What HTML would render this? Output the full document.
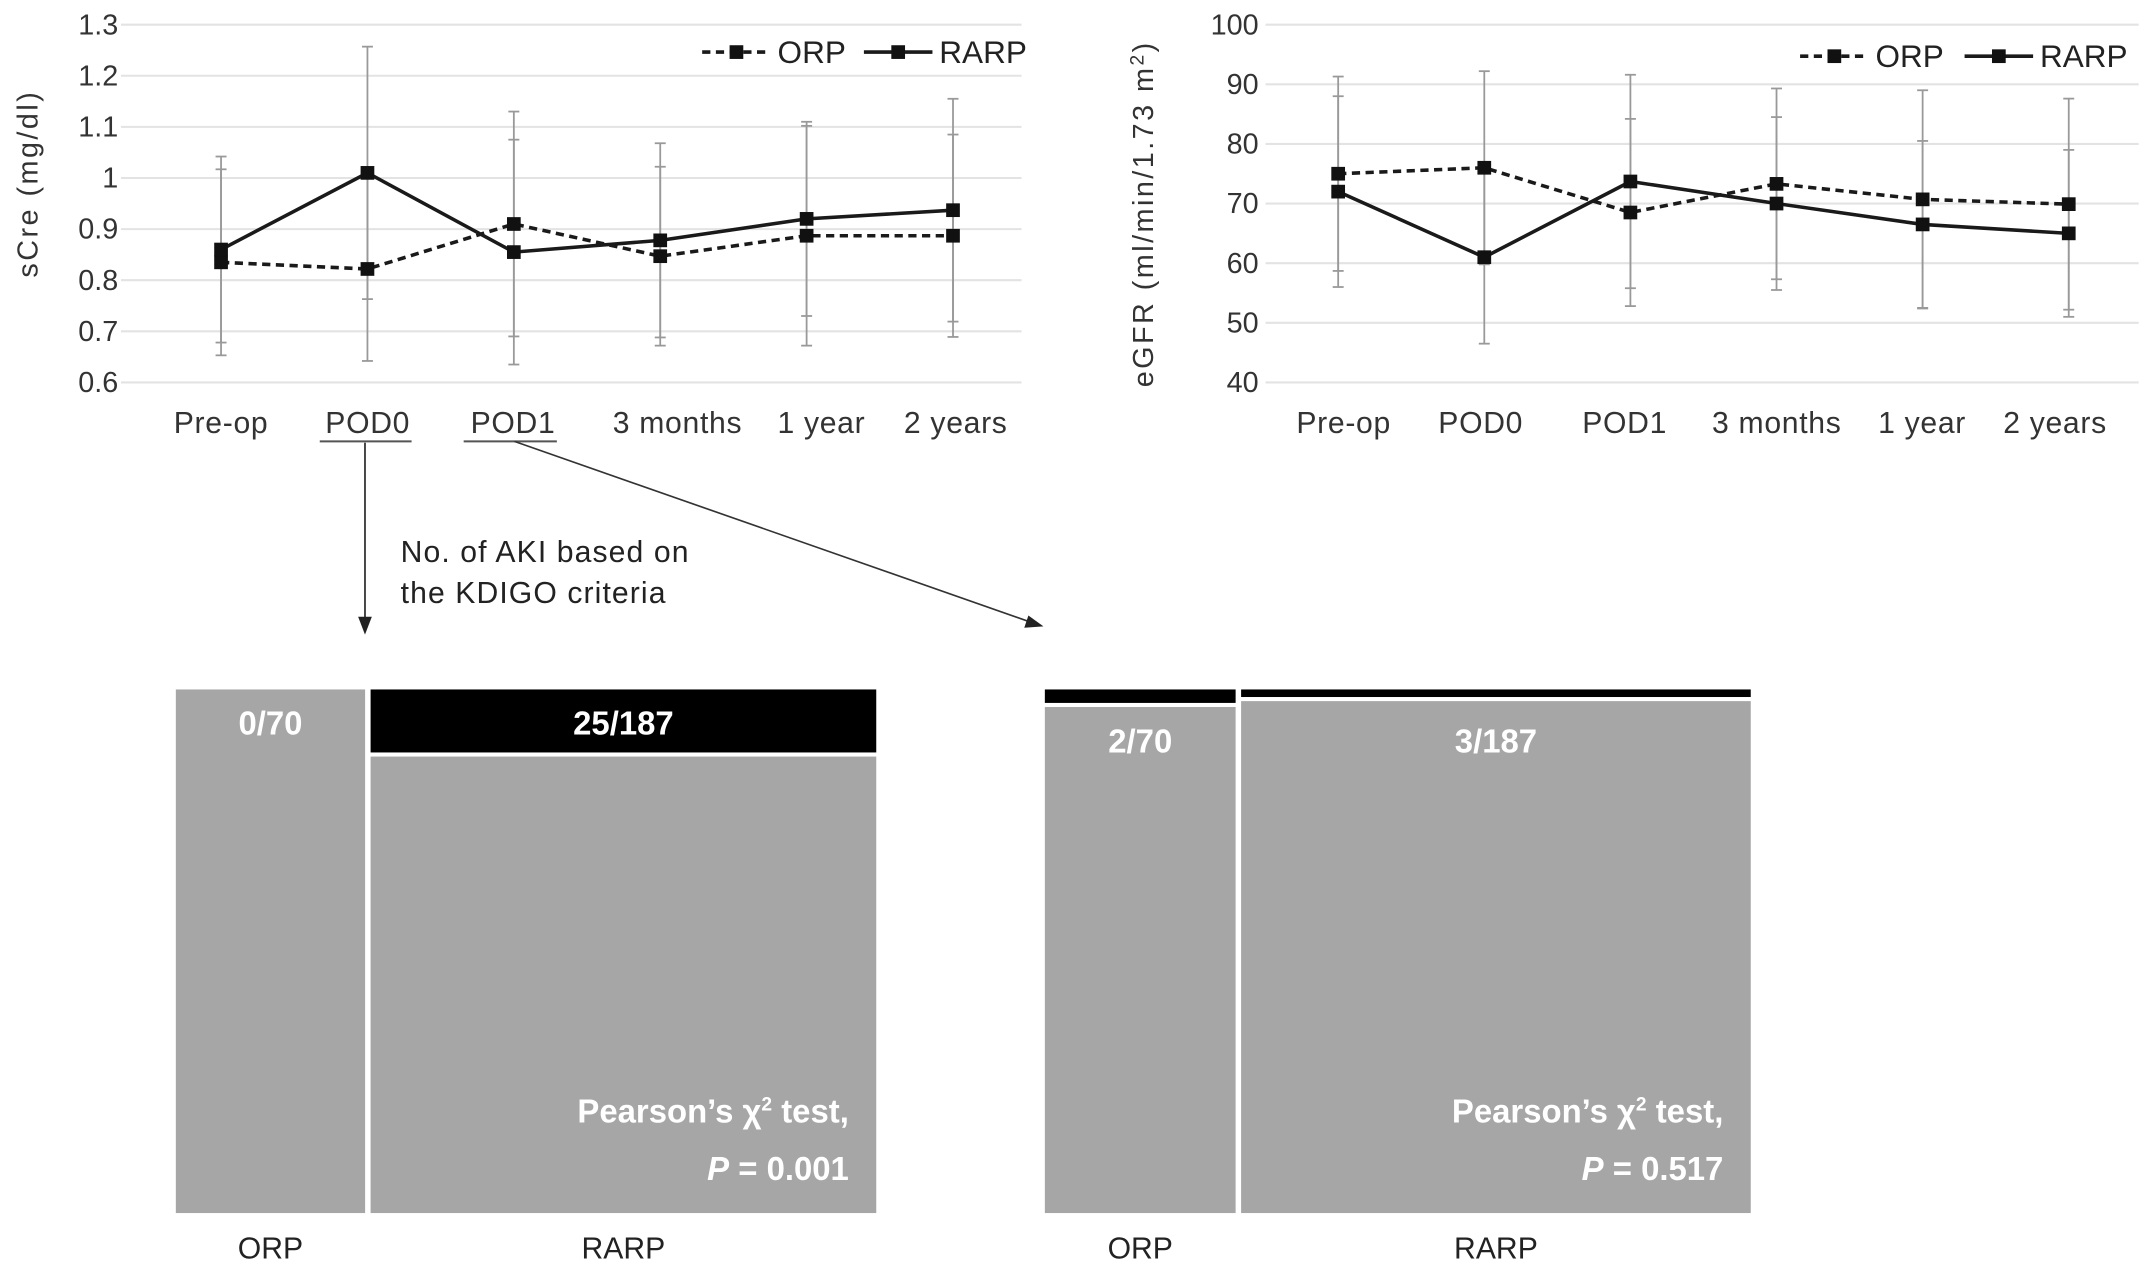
<!DOCTYPE html>
<html><head><meta charset="utf-8"><style>
html,body{margin:0;padding:0;background:#fff;}
svg{display:block;font-family:"Liberation Sans",Arial,sans-serif;}
</style></head><body>
<svg id="fig" width="2150" height="1272" viewBox="0 0 1568 928">
<g id="left"></g>
<g id="right"></g>
<g id="annot">
  <line x1="233" y1="322" x2="300" y2="322" stroke="#555" stroke-width="1.5"/>
  <line x1="338" y1="322" x2="406" y2="322" stroke="#555" stroke-width="1.5"/>
  <line x1="266" y1="323" x2="266" y2="452" stroke="#222" stroke-width="1.2"/>
  <polygon points="261,450 271,450 266,463" fill="#222"/>
  <line x1="375" y1="322" x2="752" y2="454" stroke="#333" stroke-width="1.2"/>
  <polygon points="750,449 747,458 761,457" fill="#222"/>
  <text x="292" y="410" font-size="22" letter-spacing="0.8" fill="#222">No. of AKI based on</text>
  <text x="292" y="440" font-size="22" letter-spacing="0.8" fill="#222">the KDIGO criteria</text>
</g>
<g id="mosaics"></g>
</svg>
<script>
const NS="http://www.w3.org/2000/svg";
function mk(parent,tag,attrs,text){const e=document.createElementNS(NS,tag);for(const k in attrs)e.setAttribute(k,attrs[k]);if(text!==undefined)e.textContent=text;parent.appendChild(e);return e;}

const categories=["Pre-op","POD0","POD1","3 months","1 year","2 years"];
const screTicks=[0.6,0.7,0.8,0.9,1.0,1.1,1.2,1.3];
const screTickLabels=["0.6","0.7","0.8","0.9","1","1.1","1.2","1.3"];
const screORP=[0.835,0.822,0.91,0.847,0.887,0.887];
const screORPsd=[0.182,0.18,0.22,0.175,0.215,0.198];
const screRARP=[0.86,1.01,0.855,0.878,0.92,0.937];
const screRARPsd=[0.182,0.247,0.22,0.19,0.19,0.218];
const egfrTicks=[40,50,60,70,80,90,100];
const egfrTickLabels=["40","50","60","70","80","90","100"];
const egfrORP=[75,76,68.5,73.3,70.7,69.9];
const egfrORPsd=[16.3,16.2,15.7,16,18.3,17.7];
const egfrRARP=[72,61,73.7,70,66.5,65];
const egfrRARPsd=[16,14.5,17.9,14.5,14,14];
const mosaicGroups=["ORP","RARP"];
const totals=[70,187];
const akiPOD0=[0,25];
const akiPOD1=[2,3];
const pvals=["0.001","0.517"];

function lineChart(g,cfg){
  const y=v=>cfg.yTop+(cfg.max-v)/(cfg.max-cfg.min)*(cfg.yBot-cfg.yTop);
  const x=i=>cfg.x0+i*cfg.dx;
  cfg.ticks.forEach((t,i)=>{
    const gl=mk(g,"line",{x1:cfg.gx0,x2:cfg.gx1,y1:y(t),y2:y(t),stroke:"#e3e3e3","stroke-width":1.5});
    
    
    const tl=mk(g,"text",{x:cfg.tickX,y:y(t)+7,"text-anchor":"end","font-size":21,fill:"#333"},cfg.tickLabels[i]);
    
    
  });
  categories.forEach((c,i)=>{
    const t=mk(g,"text",{x:cfg.labX[i],y:316,"text-anchor":"middle","font-size":22,"letter-spacing":"0.5",fill:"#333"},c);
    
    
  });
  const yt=mk(g,"text",{transform:`translate(${cfg.titleX},${cfg.titleY}) rotate(-90)`,"text-anchor":"middle","font-size":21,fill:"#333","letter-spacing":"1.8"},"");
  yt.innerHTML=cfg.title;
  
  
  const series=[[cfg.orp,cfg.orpSd,"6,4","orp"],[cfg.rarp,cfg.rarpSd,"none","rarp"]];
  series.forEach(([vals,sd,dash,nm])=>{
    vals.forEach((v,i)=>{
      const e=mk(g,"line",{x1:x(i),x2:x(i),y1:y(v+sd[i]),y2:y(v-sd[i]),stroke:"#999","stroke-width":1.3});
      
      
      [v+sd[i],v-sd[i]].forEach(w=>{
        const c=mk(g,"line",{x1:x(i)-4,x2:x(i)+4,y1:y(w),y2:y(w),stroke:"#999","stroke-width":1.3});
        
        
      });
    });
  });
  series.forEach(([vals,sd,dash,nm])=>{
    const p=mk(g,"polyline",{points:vals.map((v,i)=>x(i)+","+y(v)).join(" "),fill:"none",stroke:"#1a1a1a","stroke-width":2.6,"stroke-dasharray":dash});
    
    
    vals.forEach((v,i)=>{
      const m=mk(g,"rect",{x:x(i)-5,y:y(v)-5,width:10,height:10,fill:"#111"});
      
      
    });
  });
  const L=cfg.leg;
  [[L.x0,"6,4","ORP","legend-orp"],[L.x1,"none","RARP","legend-rarp"]].forEach(([lx,dash,lab,nm])=>{
    const lg=mk(g,"g",{});
    
    
    mk(lg,"line",{x1:lx,x2:lx+50,y1:L.y,y2:L.y,stroke:"#1a1a1a","stroke-width":2.6,"stroke-dasharray":dash});
    mk(lg,"rect",{x:lx+20,y:L.y-5,width:10,height:10,fill:"#111"});
    mk(lg,"text",{x:lx+55,y:L.y+8,"font-size":23,fill:"#222"},lab);
  });
}
lineChart(document.getElementById("left"),{min:0.6,max:1.3,yTop:18,yBot:279,x0:161,dx:106.8,gx0:88,gx1:745,tickX:86,
  ticks:screTicks,tickLabels:screTickLabels,labX:[161,268,374,494,599,697],orp:screORP,orpSd:screORPsd,rarp:screRARP,rarpSd:screRARPsd,
  title:"sCre (mg/dl)",titleX:27,titleY:134,leg:{x0:512,x1:630,y:38}});
lineChart(document.getElementById("right"),{min:40,max:100,yTop:18,yBot:279,x0:976,dx:106.6,gx0:923,gx1:1560,tickX:918,
  ticks:egfrTicks,tickLabels:egfrTickLabels,labX:[980,1080,1185,1296,1402,1499],orp:egfrORP,orpSd:egfrORPsd,rarp:egfrRARP,rarpSd:egfrRARPsd,
  title:'eGFR (ml/min/1.73 m<tspan dy="-7" font-size="14">2</tspan><tspan dy="7">)</tspan>',titleX:841,titleY:156,leg:{x0:1313,x1:1433,y:41}});

function mosaic(g,x0,W,aki,pv,labY){
  const top=503,bot=885,gap=4;
  const sum=totals[0]+totals[1];
  let cx=x0;
  totals.forEach((n,i)=>{
    const w=(W-gap)*n/sum;
    const H=bot-top;
    const bh=Math.max(aki[i]/n*H*0.9,aki[i]>0?3:0);
    if(bh>0){
      const b=mk(g,"rect",{x:cx,y:top,width:w,height:bh,fill:"#000"});
      
      
    }
    const gy=top+bh+(bh>0?3:0);
    const r=mk(g,"rect",{x:cx,y:gy,width:w,height:bot-gy,fill:"#a6a6a6"});
    
    
    const t=mk(g,"text",{x:cx+w/2,y:labY,"text-anchor":"middle","font-size":24,"font-weight":"bold",fill:"#fff"},aki[i]+"/"+n);
    
    
    const xl=mk(g,"text",{x:cx+w/2,y:918,"text-anchor":"middle","font-size":22,fill:"#222"},mosaicGroups[i]);
    
    
    cx+=w+gap;
  });
  const right=x0+W-20;
  const p1=mk(g,"text",{x:right,y:819,"text-anchor":"end","font-size":24,"font-weight":"bold",fill:"#fff"},"");
  p1.innerHTML='Pearson’s χ<tspan dy="-9" font-size="14">2</tspan><tspan dy="9"> test,</tspan>';
  
  
  const p2=mk(g,"text",{x:right,y:861,"text-anchor":"end","font-size":24,"font-weight":"bold",fill:"#fff"},"");
  p2.innerHTML='<tspan font-style="italic">P</tspan> = '+pv;
  
  
}
const mg=document.getElementById("mosaics");
mosaic(mg,128,511,akiPOD0,pvals[0],536);
mosaic(mg,762,515,akiPOD1,pvals[1],549);
</script>
</body></html>
